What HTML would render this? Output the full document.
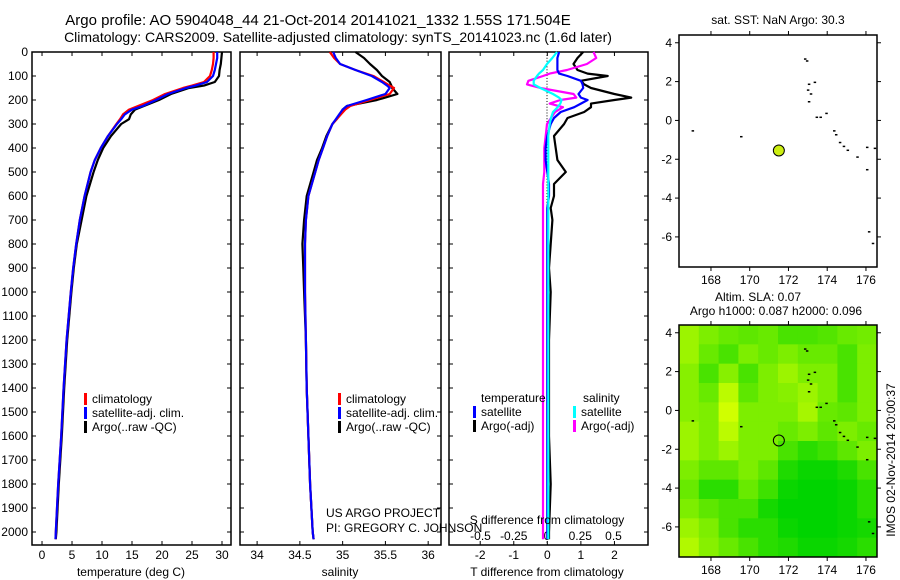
<!DOCTYPE html>
<html><head><meta charset="utf-8"><style>
body{margin:0;background:#fff;}
svg{display:block;font-family:"Liberation Sans",sans-serif;}
</style></head><body>
<svg id="c" width="900" height="580"></svg>
<script>
// ---- data ----
const depths=[0,25,50,75,100,125,140,150,175,200,225,240,260,280,300,350,400,450,500,600,700,800,900,1000,1200,1400,1600,1800,2000,2030];
const tempClim=[28.6,28.6,28.5,28.3,28.0,27.0,25.0,23.5,20.5,18.5,16.0,14.5,13.5,13.0,12.4,11.0,9.8,8.8,8.1,7.1,6.3,5.7,5.2,4.8,4.1,3.6,3.2,2.7,2.3,2.25];
const tempSat=[29.2,29.2,29.0,28.8,28.5,27.5,25.6,24.0,21.0,19.0,16.8,15.0,13.8,13.2,12.5,11.0,9.8,8.8,8.1,7.1,6.3,5.7,5.2,4.8,4.1,3.6,3.2,2.7,2.3,2.25];
const tempArgo=[30.0,29.9,29.8,29.6,29.5,28.8,27.0,24.5,21.5,19.5,17.0,15.5,14.8,14.5,13.2,11.5,10.2,9.3,8.6,7.4,6.6,5.8,5.3,4.9,4.2,3.7,3.3,2.8,2.4,2.3];
const salClim=[34.85,34.9,34.97,35.15,35.36,35.48,35.55,35.6,35.55,35.32,35.09,35.03,34.98,34.93,34.88,34.82,34.77,34.72,34.68,34.6,34.57,34.56,34.56,34.56,34.57,34.58,34.6,34.62,34.65,34.66];
const salSat=[34.89,34.92,34.97,35.15,35.34,35.46,35.52,35.55,35.5,35.28,35.05,35.0,34.96,34.92,34.88,34.82,34.77,34.72,34.68,34.6,34.57,34.56,34.56,34.56,34.57,34.58,34.6,34.62,34.65,34.66];
const salArgo=[35.15,35.25,35.32,35.4,35.46,35.55,35.57,35.58,35.64,35.4,35.05,35.0,34.97,34.93,34.88,34.81,34.76,34.7,34.66,34.58,34.55,34.53,34.54,34.55,34.57,34.58,34.6,34.62,34.65,34.66];
const diffDepths=[0,25,50,75,90,100,120,135,150,175,190,200,215,230,250,275,300,350,400,450,500,550,600,650,700,800,900,1000,1200,1400,1600,1800,2000,2030];
const tDiffSat=[0.35,0.3,0.3,0.3,0.35,0.6,1.0,1.05,1.07,0.93,1.0,1.2,1.0,0.8,0.4,0.2,0.1,0.0,-0.05,-0.05,0.0,0.05,0.05,0.0,0.0,0.0,0.0,0.0,0.0,0.0,0.0,0.0,0.0,0.0];
const tDiffArgo=[1.07,0.9,0.78,0.9,1.2,1.8,1.0,1.1,1.3,2.0,2.5,2.0,1.3,1.3,1.1,0.6,0.5,0.2,0.25,0.3,0.55,0.2,0.2,0.1,0.15,0.1,0.05,0.1,0.05,0.05,0.05,0.1,0.05,0.05];
const sDiffSat=[0.075,0.04,0.0,-0.03,-0.06,-0.075,-0.1,-0.1,-0.05,0.045,0.09,0.11,0.1,0.08,0.045,0.03,0.02,0.01,0.01,0.01,0.01,0.01,0.01,0.01,0.01,0.01,0.01,0.01,0.01,0.01,0.01,0.01,0.01,0.01];
const sDiffArgo=[0.35,0.37,0.3,0.15,0.02,-0.03,-0.14,-0.15,-0.05,0.2,0.22,0.1,0.02,0.12,0.06,0.03,0.0,-0.01,-0.02,-0.02,-0.02,-0.03,-0.03,-0.03,-0.03,-0.03,-0.03,-0.03,-0.03,-0.03,-0.03,-0.03,-0.03,-0.03];
const depthTicks=[0,100,200,300,400,500,600,700,800,900,1000,1100,1200,1300,1400,1500,1600,1700,1800,1900,2000];
const tempTicks=[0,5,10,15,20,25,30];
const salTicks=[34,34.5,35,35.5,36];
const salTickLabels=["34","34.5","35","35.5","36"];
const tdTicks=[-2,-1,0,1,2];
const sdTicks=[-0.5,-0.25,0,0.25,0.5];
const sdTickLabels=["-0.5","-0.25","0","0.25","0.5"];
const lonTicks=[168,170,172,174,176];
const latTicks=[4,2,0,-2,-4,-6];
const argoLon=171.504, argoLat=-1.55;
const coastLon=[172.8,172.9,173.0,172.95,173.1,173.3,173.0,173.4,173.6,173.9,174.3,174.4,174.6,174.8,175.0,175.5,176.0,176.4,176.0,176.1,176.3,167.0,169.5];
const coastLat=[3.2,3.1,1.9,1.6,1.4,2.0,1.0,0.2,0.2,0.4,-0.5,-0.7,-1.1,-1.3,-1.5,-1.85,-1.35,-1.4,-2.5,-5.7,-6.3,-0.5,-0.8];
const slaGrid=[
[0.75,0.6,0.5,0.45,0.5,0.35,0.35,0.4,0.5,0.55],
[0.75,0.5,0.35,0.6,0.5,0.6,0.5,0.5,0.35,0.6],
[0.65,0.35,0.65,0.35,0.6,0.75,0.6,0.6,0.35,0.6],
[0.65,0.5,0.9,0.45,0.6,0.65,0.75,0.6,0.35,0.6],
[0.65,0.6,1.0,0.6,0.6,0.6,0.8,0.5,0.45,0.6],
[0.75,0.6,0.9,0.6,0.6,0.5,0.6,0.45,0.6,0.5],
[0.75,0.6,0.75,0.6,0.6,0.35,0.2,0.3,0.45,0.6],
[0.6,0.45,0.45,0.6,0.45,0.15,0.05,0.05,0.15,0.35],
[0.5,0.2,0.2,0.5,0.3,0.05,0.0,0.0,0.05,0.2],
[0.6,0.45,0.35,0.35,0.1,0.0,0.0,0.0,0.05,0.2],
[0.75,0.6,0.35,0.2,0.2,0.05,0.0,0.0,0.05,0.1],
[0.85,0.65,0.5,0.35,0.2,0.15,0.05,0.05,0.1,0.2]];

const svg=document.getElementById('c');
const NS='http://www.w3.org/2000/svg';
function el(tag,attrs,parent){const e=document.createElementNS(NS,tag);for(const k in attrs)e.setAttribute(k,attrs[k]);(parent||svg).appendChild(e);return e;}
function txt(s,x,y,anchor,size,parent){const t=el('text',{x:x,y:y,'text-anchor':anchor||'middle','font-size':size||12,fill:'#000'},parent);t.textContent=s;return t;}

const Y0=52, YK=0.24;
function yD(d){return Y0+d*YK;}
const PT=52, PB=545;

function panel(name,x0,x1,xmin,xmax){
  const g=el('g',{});
  
  
  el('rect',{x:x0,y:PT,width:x1-x0,height:PB-PT,fill:'#fff',stroke:'#000','stroke-width':1.5},g);
  return {g:g,x:v=>x0+(v-xmin)/(xmax-xmin)*(x1-x0),x0:x0,x1:x1};
}
function yticks(p,labels){
  depthTicks.forEach(d=>{
    el('line',{x1:p.x0,x2:p.x0+4,y1:yD(d),y2:yD(d),stroke:'#000'},p.g);
    el('line',{x1:p.x1,x2:p.x1-4,y1:yD(d),y2:yD(d),stroke:'#000'},p.g);
    if(labels){const t=txt(String(d),28,yD(d)+4,'end',12,p.g);}
  });
}
function line(p,xs,ys,vals,color,w,name){
  const pts=vals.map((v,i)=>p.x(v).toFixed(1)+','+yD(ys[i]).toFixed(1)).join(' ');
  const l=el('polyline',{points:pts,fill:'none',stroke:color,'stroke-width':w||2.2,'stroke-linejoin':'round'},p.g);
  
  
}
function xticks(p,ticks,labels,ly,fx){
  ticks.forEach((v,i)=>{
    const x=(fx||p.x)(v);
    el('line',{x1:x,x2:x,y1:PB,y2:PB-4,stroke:'#000'},p.g);
    el('line',{x1:x,x2:x,y1:PT,y2:PT+4,stroke:'#000'},p.g);
    const t=txt(labels[i],x,ly,'middle',12,p.g);
    
    
  });
}
function legend(g,x,y,items){
  items.forEach((it,i)=>{
    el('rect',{x:x,y:y+i*14-10,width:3,height:12,fill:it[1]},g);
    const t=txt(it[0],x+8,y+i*14,'start',12,g);
    
    
  });
}

let t=txt('Argo profile: AO 5904048_44 21-Oct-2014 20141021_1332 1.55S 171.504E',318,25,'middle',15);

t=txt('Climatology: CARS2009. Satellite-adjusted climatology: synTS_20141023.nc (1.6d later)',338,42,'middle',14);


const p1=panel('temperature-panel',32,231,-1.67,31.5);
yticks(p1,true);
xticks(p1,tempTicks,tempTicks.map(String),559);
line(p1,depths,depths,tempArgo,'#000',2.2,'temp-argo-line');
line(p1,depths,depths,tempClim,'#f00',2.2,'temp-clim-line');
line(p1,depths,depths,tempSat,'#00f',2.2,'temp-sat-line');
txt('temperature (deg C)',131,576,'middle',12,p1.g);
legend(p1.g,84,403,[['climatology','#f00'],['satellite-adj. clim.','#00f'],['Argo(..raw -QC)','#000']]);

const p2=panel('salinity-panel',240,441,33.8,36.15);
yticks(p2,false);
xticks(p2,salTicks,salTickLabels,559);
line(p2,depths,depths,salArgo,'#000',2.2,'sal-argo-line');
line(p2,depths,depths,salClim,'#f00',2.2,'sal-clim-line');
line(p2,depths,depths,salSat,'#00f',2.2,'sal-sat-line');
txt('salinity',340,576,'middle',12,p2.g);
legend(p2.g,338,403,[['climatology','#f00'],['satellite-adj. clim.','#00f'],['Argo(..raw -QC)','#000']]);

const p3=panel('difference-panel',449,648,-2.93,3.0);
yticks(p3,false);
xticks(p3,tdTicks,tdTicks.map(String),559);
const xS=v=>547+v*133;
sdTicks.forEach((v,i)=>{const tt=txt(sdTickLabels[i],xS(v),540,'middle',12,p3.g);});
for(let d=0;d<2060;d+=12){el('rect',{x:546.5,y:yD(d),width:1,height:1,fill:'#000'},p3.g);}
const pS={g:p3.g,x:xS};
line(p3,diffDepths,diffDepths,tDiffArgo,'#000',2.2,'tdiff-argo-line');
line(pS,diffDepths,diffDepths,sDiffArgo,'#f0f',2.2,'sdiff-argo-line');
line(p3,diffDepths,diffDepths,tDiffSat,'#00f',2.2,'tdiff-sat-line');
line(pS,diffDepths,diffDepths,sDiffSat,'#0ff',2.2,'sdiff-sat-line');
txt('S difference from climatology',547,524,'middle',12,p3.g);
txt('T difference from climatology',547,576,'middle',12,p3.g);
txt('temperature',481,402,'start',12,p3.g);
txt('salinity',583,402,'start',12,p3.g);
legend(p3.g,473,416,[['satellite','#00f'],['Argo(-adj)','#000']]);
legend(p3.g,573,416,[['satellite','#0ff'],['Argo(-adj)','#f0f']]);

txt('US ARGO PROJECT',326,517,'start',12);
txt('PI: GREGORY C. JOHNSON',326,532,'start',12);

const LON0=166.35, LON1=176.57, LAT0=4.4, LAT1=-7.55;
function map(name,top){
  const g=el('g',{});
  
  
  const X=v=>679+(v-LON0)/(LON1-LON0)*198;
  const Y=v=>top+(LAT0-v)/(LAT0-LAT1)*232;
  return {g:g,X:X,Y:Y,top:top};
}
function mapFrame(m){
  el('rect',{x:679,y:m.top,width:198,height:232,fill:'none',stroke:'#000','stroke-width':1.5},m.g);
  lonTicks.forEach(v=>{
    el('line',{x1:m.X(v),x2:m.X(v),y1:m.top,y2:m.top-4,stroke:'#000'},m.g);
    el('line',{x1:m.X(v),x2:m.X(v),y1:m.top+232,y2:m.top+236,stroke:'#000'},m.g);
    const tt=txt(String(v),m.X(v),m.top+249,'middle',12,m.g);
  });
  latTicks.forEach(v=>{
    el('line',{x1:679,x2:675,y1:m.Y(v),y2:m.Y(v),stroke:'#000'},m.g);
    el('line',{x1:877,x2:881,y1:m.Y(v),y2:m.Y(v),stroke:'#000'},m.g);
    const tt=txt(String(v),672,m.Y(v)+4,'end',12,m.g);
  });
  coastLon.forEach((lo,i)=>{el('rect',{x:m.X(lo),y:m.Y(coastLat[i]),width:2.5,height:1.5,fill:'#000'},m.g);});
}
const m1=map('sst-map',35);
mapFrame(m1);
const dot=el('circle',{cx:m1.X(argoLon),cy:m1.Y(argoLat),r:5.5,fill:'#ccee11',stroke:'#000'},m1.g);

txt('sat. SST: NaN Argo: 30.3',778,24,'middle',12);

const m2=map('sla-map',325);
const nr=slaGrid.length,nc=slaGrid[0].length;
slaGrid.forEach((row,r)=>row.forEach((v,c)=>{
  const lo=LON0+c*(LON1-LON0)/nc, la=LAT0-r*(LAT0-LAT1)/nr;
  const x=m2.X(lo),y=m2.Y(la);
  const R=Math.round(0x00+v*0xd0),G=Math.round(0xd4+v*0x2b);
  const cell=el('rect',{x:x,y:y,width:198/nc+0.5,height:232/nr+0.5,fill:`rgb(${R},${G},0)`},m2.g);
  
  
}));
mapFrame(m2);
const ring=el('circle',{cx:m2.X(argoLon),cy:m2.Y(argoLat),r:5.5,fill:'none',stroke:'#000'},m2.g);

txt('Altim. SLA: 0.07',758,301,'middle',12);
txt('Argo h1000: 0.087 h2000: 0.096',776,315,'middle',12);

const r=txt('IMOS 02-Nov-2014 20:00:37',0,0,'middle',12);
r.setAttribute('transform','translate(895,460) rotate(-90)');

</script>
</body></html>
